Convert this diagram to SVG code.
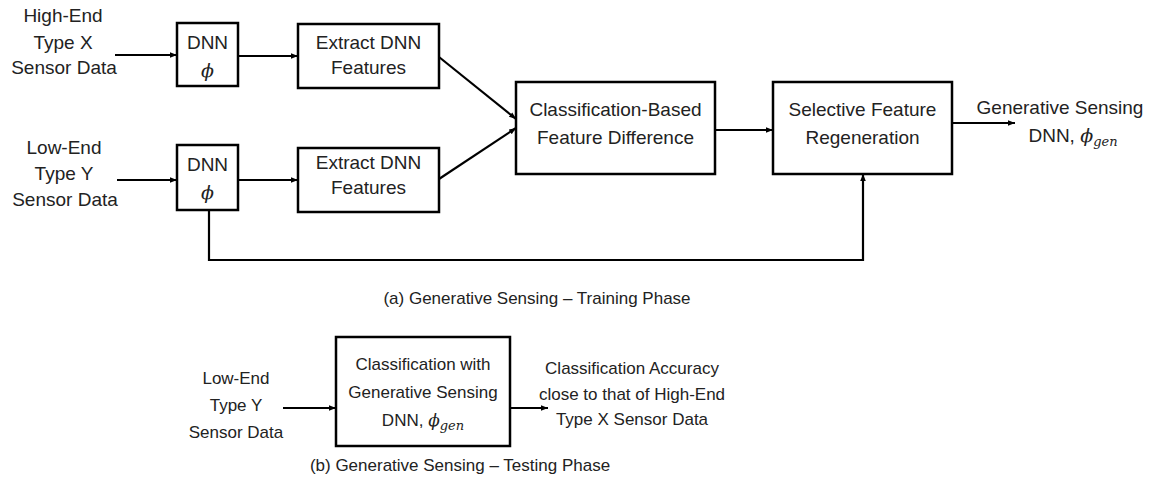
<svg xmlns="http://www.w3.org/2000/svg" width="1153" height="493" viewBox="0 0 1153 493">
<style>
.box{fill:#fff;stroke:#000;stroke-width:2.5}
.t{font-family:"Liberation Sans",Arial,sans-serif;font-size:19px;fill:#222;text-anchor:middle}
.b{font-size:17px}
.m{font-family:"DejaVu Serif","Liberation Serif",serif;font-style:italic;fill:#222}
.s{font-size:13px}
.ln{fill:none;stroke:#000;stroke-width:2.2}
</style>
<defs>
<marker id="ah" viewBox="0 0 10 10" refX="10" refY="5" markerWidth="7" markerHeight="7" markerUnits="userSpaceOnUse" orient="auto">
<path d="M0,1 L10,5 L0,9 z" fill="#000"/>
</marker>
</defs>
<rect width="1153" height="493" fill="#fff"/>
<g id="in-high">
<text class="t" x="63" y="22">High-End</text>
<text class="t" x="63" y="49">Type X</text>
<text class="t" x="64" y="74">Sensor Data</text>
</g>
<g id="in-low">
<text class="t" x="64" y="154">Low-End</text>
<text class="t" x="64" y="180">Type Y</text>
<text class="t" x="65" y="206">Sensor Data</text>
</g>
<g id="dnn1">
<rect class="box" x="177" y="23" width="61" height="63"/>
<text class="t" x="207.5" y="49">DNN</text>
<text class="t m" x="207.5" y="77">ϕ</text>
</g>
<g id="dnn2">
<rect class="box" x="177" y="145" width="61" height="65"/>
<text class="t" x="207.5" y="171">DNN</text>
<text class="t m" x="207.5" y="199">ϕ</text>
</g>
<g id="extract1">
<rect class="box" x="298" y="24" width="141" height="64"/>
<text class="t" x="368.5" y="49">Extract DNN</text>
<text class="t" x="368.5" y="74">Features</text>
</g>
<g id="extract2">
<rect class="box" x="298" y="148" width="141" height="64"/>
<text class="t" x="368.5" y="169">Extract DNN</text>
<text class="t" x="368.5" y="194">Features</text>
</g>
<g id="classdiff">
<rect class="box" x="516" y="82" width="199" height="92"/>
<text class="t" x="615.5" y="116">Classification-Based</text>
<text class="t" x="615.5" y="144">Feature Difference</text>
</g>
<g id="selective">
<rect class="box" x="773" y="82" width="179" height="92"/>
<text class="t" x="862.5" y="116">Selective Feature</text>
<text class="t" x="862.5" y="144">Regeneration</text>
</g>
<g id="out-train">
<text class="t" x="1060" y="114">Generative Sensing</text>
<text class="t" x="1073" y="142"><tspan>DNN, </tspan><tspan class="m">ϕ</tspan><tspan class="m s" dy="4">gen</tspan></text>
</g>
<g id="caption-a">
<text class="t b" x="537" y="304">(a) Generative Sensing – Training Phase</text>
</g>
<g id="in-test">
<text class="t b" x="236" y="384">Low-End</text>
<text class="t b" x="236" y="411">Type Y</text>
<text class="t b" x="236" y="438">Sensor Data</text>
</g>
<g id="classgen">
<rect class="box" x="336" y="337" width="174" height="109"/>
<text class="t b" x="423" y="370">Classification with</text>
<text class="t b" x="423" y="398">Generative Sensing</text>
<text class="t b" x="423" y="426"><tspan>DNN, </tspan><tspan class="m">ϕ</tspan><tspan class="m s" dy="4">gen</tspan></text>
</g>
<g id="out-test">
<text class="t b" x="632" y="374">Classification Accuracy</text>
<text class="t b" x="632" y="400">close to that of High-End</text>
<text class="t b" x="632" y="425">Type X Sensor Data</text>
</g>
<g id="caption-b">
<text class="t b" x="460" y="471">(b) Generative Sensing – Testing Phase</text>
</g>
<g id="connectors">
<line class="ln" x1="115" y1="55" x2="177" y2="55" marker-end="url(#ah)"/>
<line class="ln" x1="117" y1="180" x2="177" y2="180" marker-end="url(#ah)"/>
<line class="ln" x1="238" y1="56" x2="298" y2="56" marker-end="url(#ah)"/>
<line class="ln" x1="238" y1="180" x2="298" y2="180" marker-end="url(#ah)"/>
<line class="ln" x1="439" y1="57" x2="516" y2="119" marker-end="url(#ah)"/>
<line class="ln" x1="439" y1="179" x2="516" y2="128" marker-end="url(#ah)"/>
<line class="ln" x1="715" y1="130" x2="773" y2="130" marker-end="url(#ah)"/>
<line class="ln" x1="952" y1="123" x2="1015" y2="123" marker-end="url(#ah)"/>
<polyline class="ln" points="209,210 209,260 863,260 863,174" marker-end="url(#ah)"/>
<line class="ln" x1="283" y1="408" x2="336" y2="408" marker-end="url(#ah)"/>
<line class="ln" x1="510" y1="408" x2="548" y2="408" marker-end="url(#ah)"/>
</g>
</svg>
